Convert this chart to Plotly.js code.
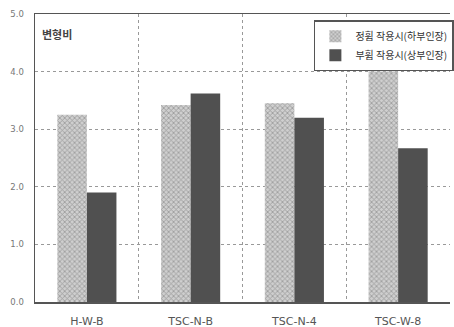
<!DOCTYPE html>
<html>
<head>
<meta charset="utf-8">
<script src="https://cdn.plot.ly/plotly-3.0.1.min.js"></script>
<style>html,body{margin:0;padding:0;background:#fff;}#chart{width:454px;height:327px;}</style>
</head>
<body>
<div id="chart"></div>
<script>
const categories = ['H-W-B', 'TSC-N-B', 'TSC-N-4', 'TSC-W-8'];
const positiveBending = [3.25, 3.42, 3.45, 4.0];
const negativeBending = [1.90, 3.62, 3.20, 2.67];
const seriesNames = ['정휨 작용시(하부인장)', '부휨 작용시(상부인장)'];
const yTickVals = [0, 1, 2, 3, 4, 5];
const yAxisLabel = '변형비';

const traces = [
  {
    type: 'bar', x: categories, y: positiveBending, name: seriesNames[0],
    marker: {
      color: '#bdbdbd',
      line: {width: 0},
      pattern: {shape: 'x', fgcolor: '#5e5e5e', bgcolor: '#cfcfcf', size: 3.5, solidity: 0.4, fillmode: 'overlay'}
    }
  },
  {
    type: 'bar', x: categories, y: negativeBending, name: seriesNames[1],
    marker: {color: '#505050', line: {width: 0}}
  }
];

const layout = {
  width: 454, height: 327,
  margin: {l: 35, r: 0, t: 14, b: 25},
  paper_bgcolor: '#fff', plot_bgcolor: '#fff',
  font: {family: 'DejaVu Sans, sans-serif', color: '#555'},
  barmode: 'group', bargap: 0.43, bargroupgap: 0,
  showlegend: true,
  legend: {
    x: 0.672, y: 0.978, xanchor: 'left', yanchor: 'top',
    bgcolor: '#fff', bordercolor: '#555', borderwidth: 1.5,
    font: {family: 'Noto Sans CJK KR', size: 10, color: '#333'},
    itemwidth: 30
  },
  xaxis: {
    type: 'category', range: [-0.5, 3.5],
    tickson: 'boundaries', showgrid: true, gridcolor: '#999', griddash: 'dot', gridwidth: 1,
    showline: true, linecolor: '#555', linewidth: 1.5, mirror: true,
    ticks: '', ticklabelstandoff: 8,
    tickfont: {family: 'DejaVu Sans', size: 11, color: '#555'},
    zeroline: false
  },
  yaxis: {
    range: [0, 5], tickvals: yTickVals, tickformat: '.1f',
    showgrid: true, gridcolor: '#999', griddash: 'dot', gridwidth: 1,
    showline: true, linecolor: '#555', linewidth: 1.5,
    ticks: '', ticklabelstandoff: 8,
    tickfont: {family: 'DejaVu Sans', size: 8.5, color: '#777'},
    zeroline: false
  },
  annotations: [{
    text: '<b>' + yAxisLabel + '</b>', xref: 'paper', yref: 'paper', x: 0.012, y: 0.965,
    xanchor: 'left', yanchor: 'top', showarrow: false,
    font: {family: 'Noto Sans CJK KR', size: 11, color: '#444'}
  }]
};

Plotly.newPlot('chart', traces, layout, {staticPlot: true, displayModeBar: false});
</script>
</body>
</html>
